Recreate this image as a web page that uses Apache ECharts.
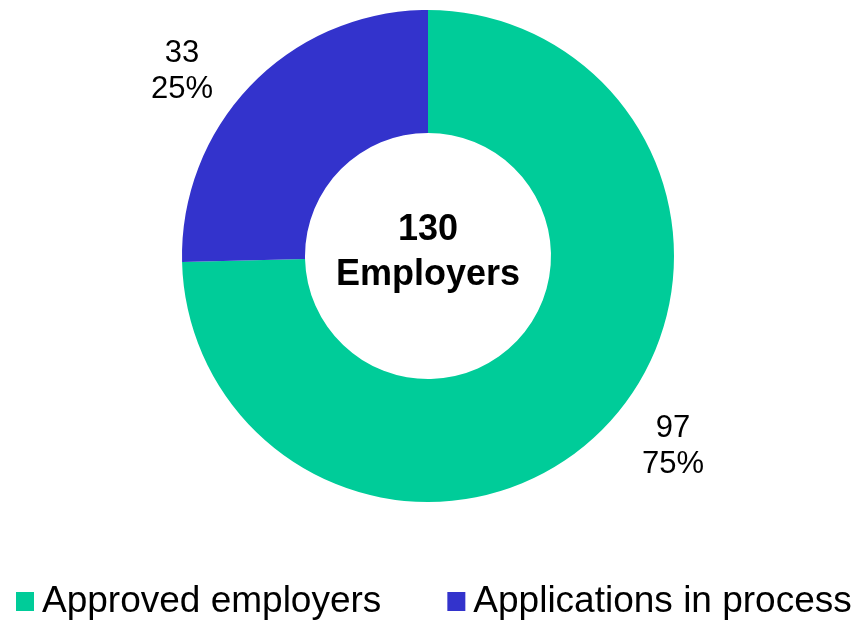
<!DOCTYPE html>
<html>
<head>
<meta charset="utf-8">
<script src="https://cdn.jsdelivr.net/npm/echarts@6/dist/echarts.min.js"></script>
<style>
  html, body { margin: 0; padding: 0; background: #fff; }
  #chart { width: 865px; height: 629px; }
</style>
</head>
<body>
<div id="chart"></div>
<script>
const categories = ['Approved employers', 'Applications in process'];
const values = [97, 33];
const colors = ['#00CC99', '#3333CC'];
const centerLines = ['130', 'Employers'];

const FONT = "'Liberation Sans', Arial, sans-serif";
const CX = 428, CY = 256;

const pieData = categories.map((name, i) => ({ name: name, value: values[i], itemStyle: { color: colors[i] } }));
const labelOffsets = [[0, 0], [-1, 5]];
const labelData = categories.map((name, i) => ({ name: name, value: values[i], label: { offset: labelOffsets[i] } }));

const chart = echarts.init(document.getElementById('chart'), null, { renderer: 'canvas' });
chart.setOption({
  animation: false,
  backgroundColor: '#ffffff',
  legend: {
    data: categories,
    left: 11,
    top: 578,
    orient: 'horizontal',
    icon: 'rect',
    itemWidth: 18,
    itemHeight: 19,
    itemGap: 66,
    selectedMode: false,
    textStyle: { fontFamily: FONT, fontSize: 37, color: '#000', padding: [0, 0, 0, 3] }
  },
  graphic: [{
    type: 'text',
    x: CX,
    y: 253,
    style: {
      text: centerLines.join('\n'),
      align: 'center',
      verticalAlign: 'middle',
      fontFamily: FONT,
      fontWeight: 'bold',
      fontSize: 36,
      lineHeight: 45,
      fill: '#000'
    }
  }],
  series: [
    {
      type: 'pie',
      center: [CX, CY],
      radius: [123, 246],
      startAngle: 90,
      clockwise: true,
      silent: true,
      label: { show: false },
      labelLine: { show: false },
      data: pieData
    },
    {
      type: 'pie',
      center: [CX, CY],
      radius: [300, 314],
      startAngle: 96.5,
      clockwise: true,
      silent: true,
      percentPrecision: 0,
      itemStyle: { color: 'rgba(0,0,0,0)' },
      label: {
        show: true,
        position: 'inside',
        formatter: '{c}\n{d}%',
        fontFamily: FONT,
        fontSize: 31,
        lineHeight: 36,
        color: '#000'
      },
      labelLine: { show: false },
      data: labelData
    }
  ]
});
</script>
</body>
</html>
